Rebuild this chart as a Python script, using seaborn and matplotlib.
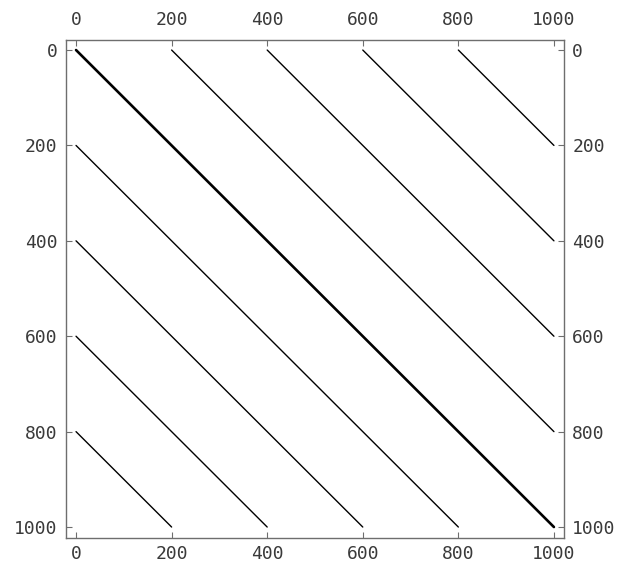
import matplotlib
matplotlib.use("Agg")
import matplotlib.pyplot as plt
import matplotlib.transforms as mtransforms
import seaborn as sns
import pandas as pd

# Sparsity pattern of a 1000 x 1000 banded matrix: nonzero diagonals
n = 1000
offsets = [-800, -600, -400, -200, 0, 200, 400, 600, 800]
tick_values = [0, 200, 400, 600, 800, 1000]

rows = []
for k in offsets:
    # a diagonal with column - row = k runs between two corners of the matrix
    c0, r0 = max(k, 0), max(-k, 0)
    c1, r1 = n - max(-k, 0), n - max(k, 0)
    rows.append({"band": k, "col": c0, "row": r0})
    rows.append({"band": k, "col": c1, "row": r1})
df = pd.DataFrame(rows)

sns.set_style("white")
plt.rcParams["font.family"] = ["DejaVu Sans Mono", "DejaVu Sans"]

fig = plt.figure(figsize=(6.22, 5.62), dpi=100)
ax = fig.add_axes([0.1061, 0.0427, 0.8006, 0.8861])

off = df[df["band"] != 0]
main = df[df["band"] == 0]
sns.lineplot(data=off, x="col", y="row", units="band", estimator=None,
             sort=False, color="black", linewidth=1.0, ax=ax)
sns.lineplot(data=main, x="col", y="row", units="band", estimator=None,
             sort=False, color="black", linewidth=1.9, ax=ax)

ax.set_xlim(-21, 1021)
ax.set_ylim(1023, -21)
ax.set_xlabel("")
ax.set_ylabel("")
ax.set_xticks(tick_values)
ax.set_yticks(tick_values)

for side in ax.spines.values():
    side.set_color("#6e6e6e")
    side.set_linewidth(1.0)

ax.tick_params(axis="both", which="major", direction="in", length=4,
               width=0.8, color="#6e6e6e", labelsize=13,
               labelcolor="#3a3a3a",
               top=True, bottom=True, left=True, right=True,
               labeltop=True, labelbottom=True, labelleft=True, labelright=True)
ax.tick_params(axis="x", pad=8)
ax.tick_params(axis="y", pad=6)

# bottom labels sit a little closer to the frame than the top ones
lift = mtransforms.ScaledTranslation(0, 4 / 100, fig.dpi_scale_trans)
for t in ax.xaxis.get_major_ticks():
    t.label1.set_transform(t.label1.get_transform() + lift)

fig.savefig("out.png", dpi=100)
